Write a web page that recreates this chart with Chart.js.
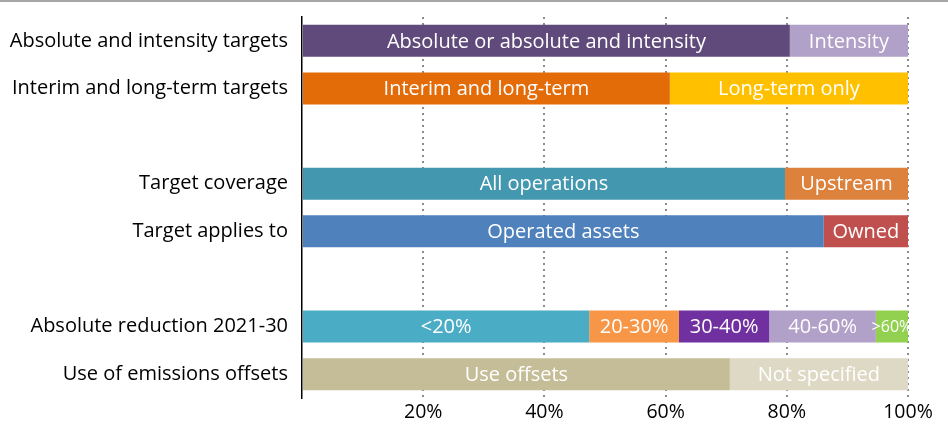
<!DOCTYPE html>
<html>
<head>
<meta charset="utf-8">
<script src="https://cdn.jsdelivr.net/npm/chart.js@4/dist/chart.umd.min.js"></script>
<style>
  html, body { margin: 0; padding: 0; background: #fff; }
  body { width: 948px; height: 439px; overflow: hidden; }
  #wrap { position: relative; width: 948px; height: 437px; border-top: 2px solid #a6a6a6; }
</style>
</head>
<body>
<div id="wrap"><canvas id="chart" width="948" height="437"></canvas></div>
<script>
// categorias (filas vacias = separadores)
const categories = ['Absolute and intensity targets', 'Interim and long-term targets', '',
  'Target coverage', 'Target applies to', '', 'Absolute reduction 2021-30', 'Use of emissions offsets'];

// segmento 1..5 de cada fila (% de empresas)
const seg1Values = [80.5, 60.7, null, 79.7, 86.1, null, 47.4, 70.6];
const seg2Values = [19.5, 39.3, null, 20.3, 13.9, null, 14.8, 29.4];
const seg3Values = [null, null, null, null, null, null, 14.9, null];
const seg4Values = [null, null, null, null, null, null, 17.6, null];
const seg5Values = [null, null, null, null, null, null, 5.3, null];

const seg1Names = ['Absolute or absolute and intensity', 'Interim and long-term', '', 'All operations', 'Operated assets', '', '<20%', 'Use offsets'];
const seg2Names = ['Intensity', 'Long-term only', '', 'Upstream', 'Owned', '', '20-30%', 'Not specified'];
const seg3Names = ['', '', '', '', '', '', '30-40%', ''];
const seg4Names = ['', '', '', '', '', '', '40-60%', ''];
const seg5Names = ['', '', '', '', '', '', '>60%', ''];

const xTicks = [20, 40, 60, 80, 100];

// colores por fila
const seg1Colors = ['#604a7b', '#e36c09', '#fff', '#4397af', '#4f81bd', '#fff', '#4bacc6', '#c4bd97'];
const seg2Colors = ['#b1a0c7', '#ffc000', '#fff', '#dc823c', '#c0504d', '#fff', '#f79646', '#ddd9c4'];
const seg3Colors = '#7030a0';
const seg4Colors = '#b1a0c7';
const seg5Colors = '#92d050';

const FONT = '"Open Sans", "Noto Sans", sans-serif';

window.addEventListener('DOMContentLoaded', () => {
  const segments = [
    [seg1Values, seg1Names, seg1Colors],
    [seg2Values, seg2Names, seg2Colors],
    [seg3Values, seg3Names, seg3Colors],
    [seg4Values, seg4Names, seg4Colors],
    [seg5Values, seg5Names, seg5Colors]
  ];

  const datasets = segments.map(([values, names, colors]) => ({
    data: values,
    names: names,
    backgroundColor: colors,
    borderWidth: 0,
    barPercentage: 0.67,
    categoryPercentage: 1
  }));

  // etiquetas blancas dentro de cada barra
  const barLabels = {
    id: 'barLabels',
    afterDatasetsDraw(chart) {
      const ctx = chart.ctx;
      ctx.save();
      ctx.textAlign = 'center';
      ctx.textBaseline = 'middle';
      ctx.fillStyle = '#ffffff';
      chart.data.datasets.forEach((ds, i) => {
        chart.getDatasetMeta(i).data.forEach((bar, j) => {
          const name = ds.names[j];
          if (!name || ds.data[j] == null) return;
          const small = name === '>60%';
          ctx.font = (small ? '16px ' : '20px ') + FONT;
          ctx.fillText(name, (bar.x + bar.base) / 2, bar.y + 1);
        });
      });
      ctx.restore();
    }
  };

  new Chart(document.getElementById('chart'), {
    type: 'bar',
    data: { labels: categories, datasets: datasets },
    options: {
      indexAxis: 'y',
      responsive: false,
      animation: false,
      layout: { padding: { top: 15, right: 40, left: 0, bottom: 0 } },
      plugins: { legend: { display: false }, tooltip: { enabled: false } },
      scales: {
        x: {
          stacked: true,
          min: 0,
          max: 100,
          afterBuildTicks: (axis) => { axis.ticks = [0, ...xTicks].map(v => ({ value: v })); },
          afterFit: (axis) => { axis.height = 41; },
          ticks: {
            color: '#000',
            font: { family: FONT, size: 19.5 },
            padding: 3,
            maxRotation: 0,
            callback: (v) => v === 0 ? '' : v + '%'
          },
          grid: {
            color: (c) => c.tick && c.tick.value === 0 ? 'rgba(0,0,0,0)' : '#8c8c8c',
            lineWidth: 2,
            drawTicks: false
          },
          border: { display: false, dash: [2, 4] }
        },
        y: {
          stacked: true,
          afterFit: (axis) => { axis.width = 302; axis.paddingTop = 0; axis.paddingBottom = 0; },
          ticks: {
            color: '#000',
            font: { family: FONT, size: 20 },
            padding: 14
          },
          grid: { display: false, drawTicks: false },
          border: { display: true, color: '#000', width: 1.5 }
        }
      }
    },
    plugins: [barLabels]
  });
});
</script>
</body>
</html>
